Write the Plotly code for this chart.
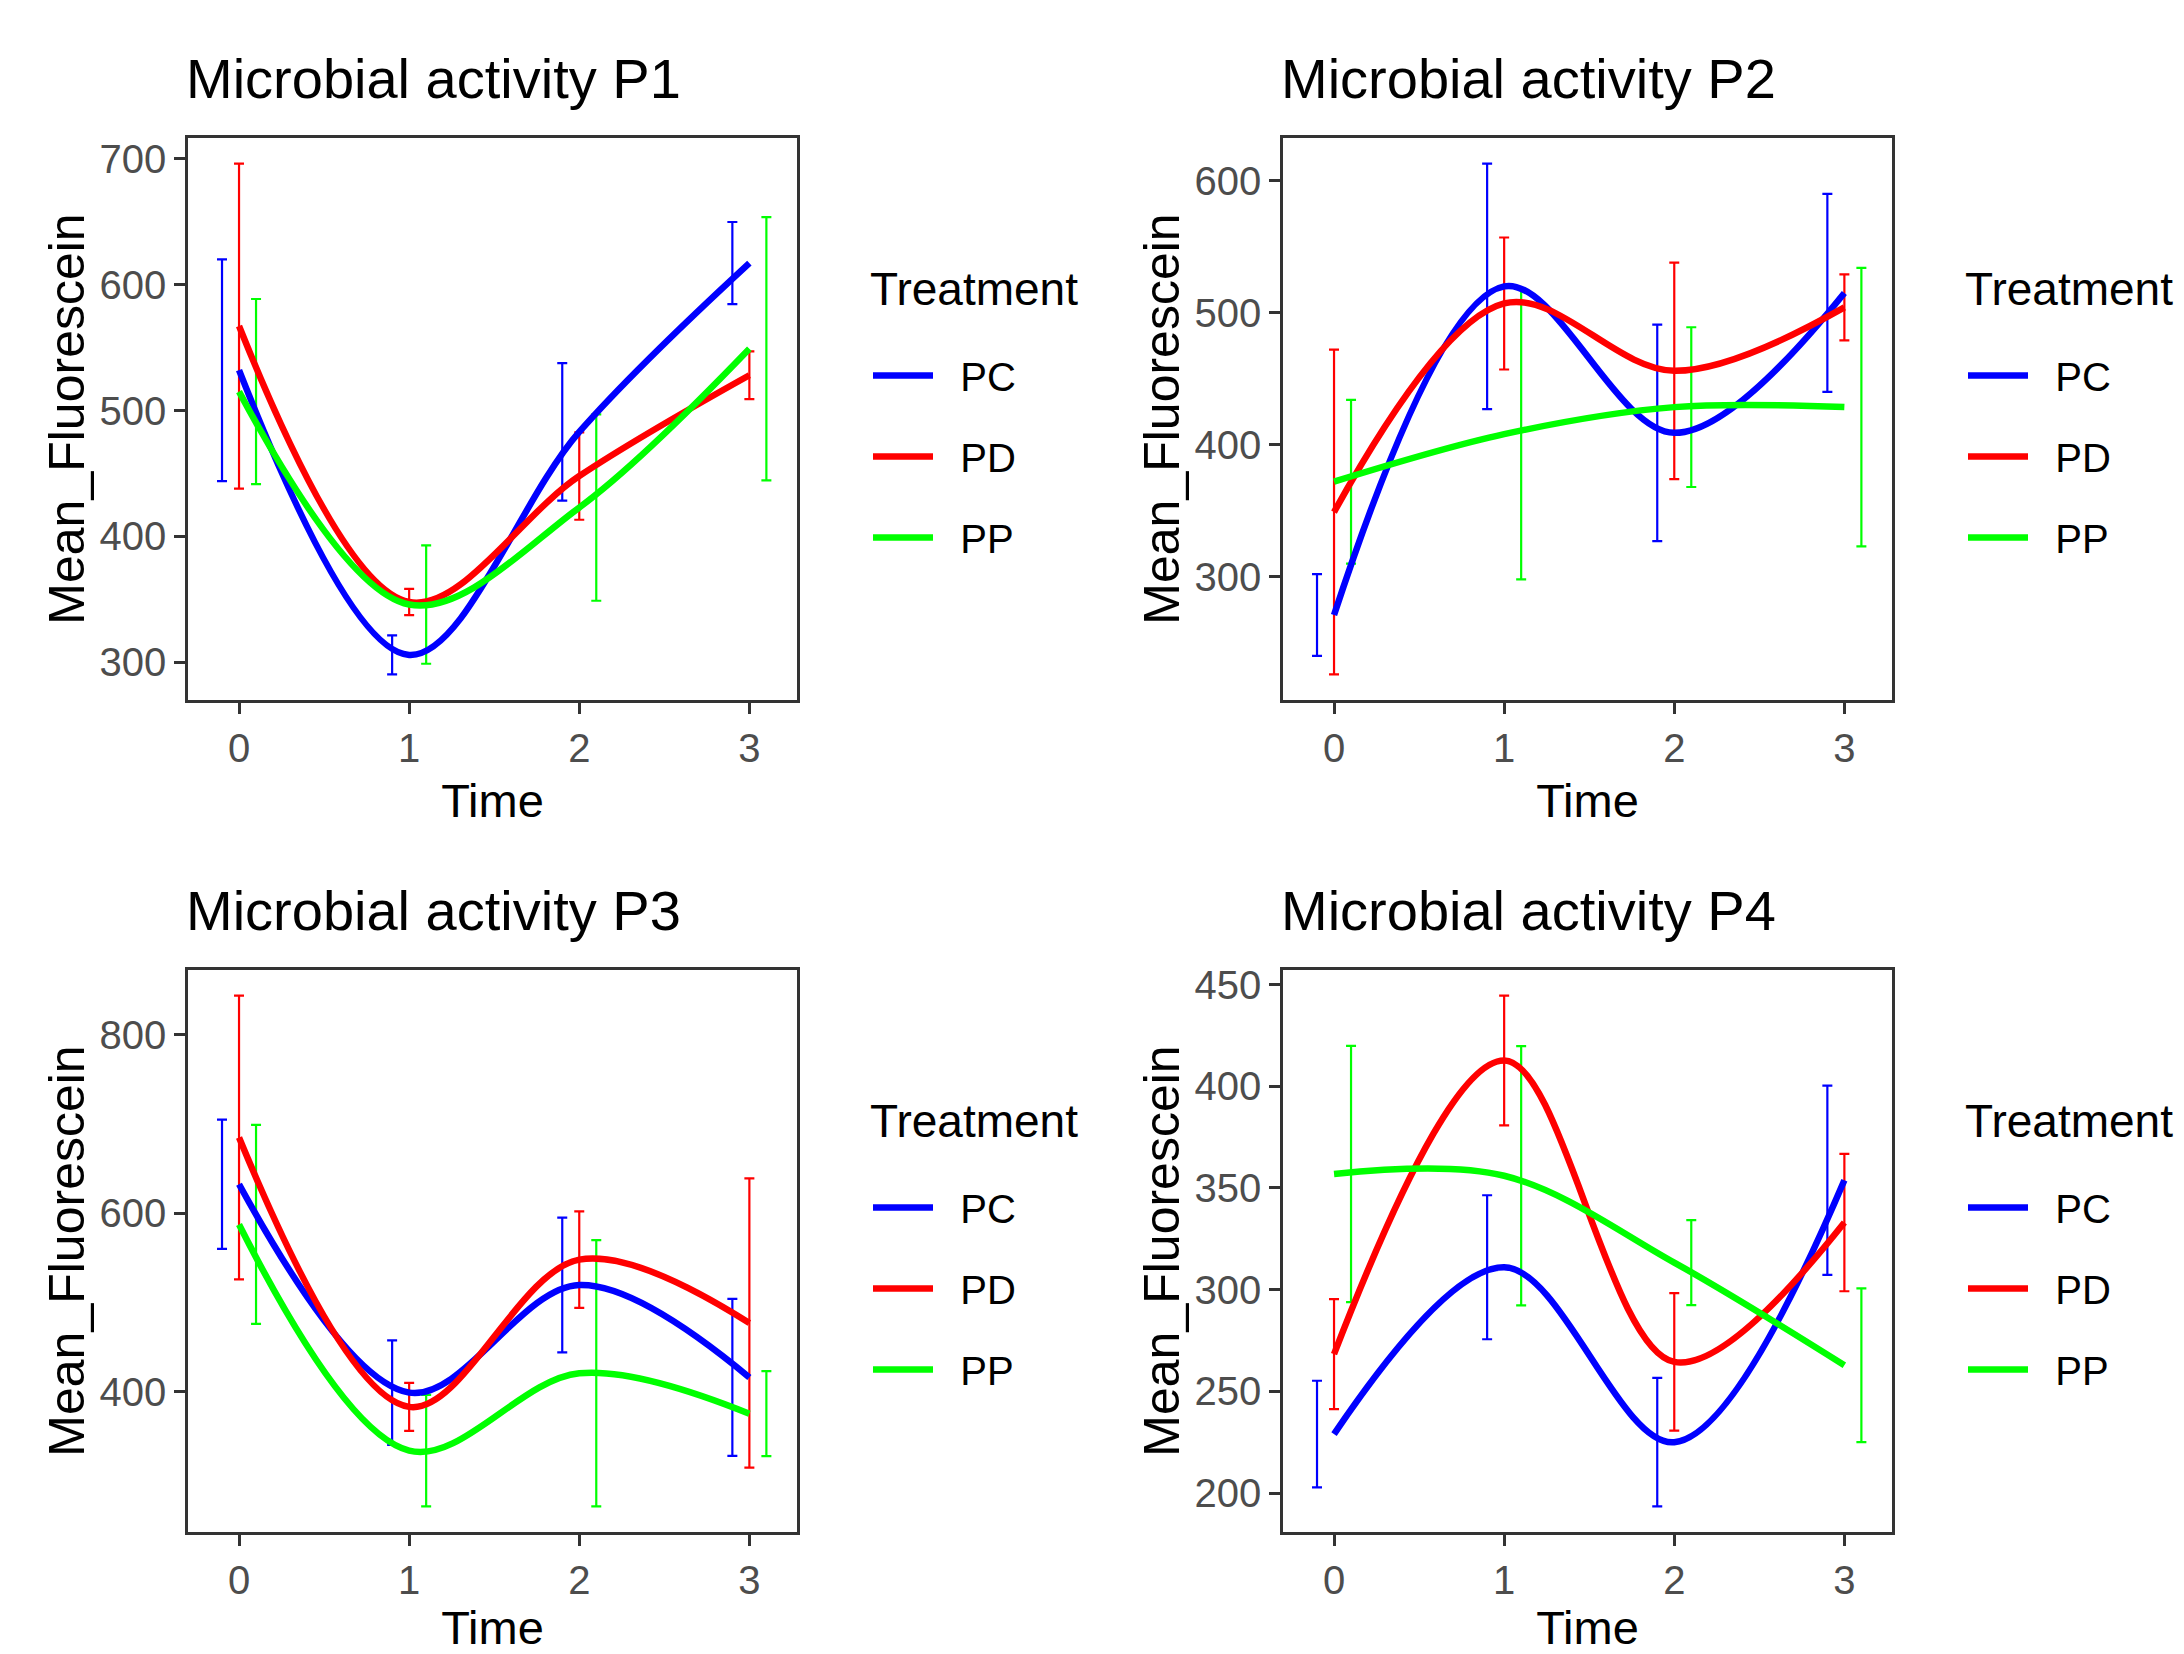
import plotly.graph_objects as go

# ---------------- data ----------------
time = [0, 1, 2, 3]
treatments = ["PC", "PD", "PP"]
panel_titles = ["Microbial activity P1", "Microbial activity P2",
                "Microbial activity P3", "Microbial activity P4"]
legend_title = "Treatment"
y_dticks = [100, 100, 200, 50]

# Panel P1
p1_pc_mean = [532, 306, 483, 617]
p1_pc_se = [88, 15.5, 54.6, 32.6]
p1_pd_mean = [567, 348, 448, 528]
p1_pd_se = [129, 10.4, 34.7, 19]
p1_pp_mean = [515, 346, 423, 549]
p1_pp_se = [73.5, 47, 74, 104.4]

# Panel P2
p2_pc_mean = [271, 520, 409, 515]
p2_pc_se = [31, 93, 82, 75]
p2_pd_mean = [349, 507, 456, 504]
p2_pd_se = [123, 50, 82, 25]
p2_pp_mean = [372, 408, 428.5, 428.5]
p2_pp_se = [62, 110, 60.5, 105.5]

# Panel P3
p3_pc_mean = [632.5, 399, 519.5, 416]
p3_pc_se = [72.5, 58.5, 75.5, 88]
p3_pd_mean = [685, 383, 548, 477]
p3_pd_se = [159, 27, 54, 162]
p3_pp_mean = [587.5, 334, 420.7, 375.4]
p3_pp_se = [111.5, 62.5, 149.3, 47.6]

# Panel P4
p4_pc_mean = [229, 311, 225, 353.8]
p4_pc_se = [26.2, 35.4, 31.6, 46.5]
p4_pd_mean = [268.3, 412.7, 264.5, 333]
p4_pd_se = [27, 31.9, 33.8, 33.8]
p4_pp_mean = [356.9, 356, 313.3, 262.8]
p4_pp_se = [63, 63.7, 20.9, 37.8]

panels = [
    {"PC": (p1_pc_mean, p1_pc_se), "PD": (p1_pd_mean, p1_pd_se), "PP": (p1_pp_mean, p1_pp_se)},
    {"PC": (p2_pc_mean, p2_pc_se), "PD": (p2_pd_mean, p2_pd_se), "PP": (p2_pp_mean, p2_pp_se)},
    {"PC": (p3_pc_mean, p3_pc_se), "PD": (p3_pd_mean, p3_pd_se), "PP": (p3_pp_mean, p3_pp_se)},
    {"PC": (p4_pc_mean, p4_pc_se), "PD": (p4_pd_mean, p4_pd_se), "PP": (p4_pp_mean, p4_pp_se)},
]

# ---------------- style ----------------
colors = {"PC": "#0000FF", "PD": "#FF0000", "PP": "#00FF00"}
dodge = {"PC": -0.1, "PD": 0.0, "PP": 0.1}
FONT = "Liberation Sans, Arial, sans-serif"

# page has an 8px body margin: figure occupies page pixels 8..2184
OFF = 8
W, H = 2184 - OFF, 1654 - OFF
def fx(px):
    return (px - OFF) / W
def fy(py):
    return 1 - (py - OFF) / H

col_left = [188, 1283]
row_top = [138, 970]
pw, ph = 609, 562

fig = go.Figure()
layout = dict(
    width=W, height=H,
    margin=dict(l=0, r=0, t=0, b=0, autoexpand=False),
    paper_bgcolor="white", plot_bgcolor="white",
    font=dict(family=FONT, color="black"),
    annotations=[],
)

for i, pdata in enumerate(panels):
    n = i + 1
    r, c = divmod(i, 2)
    x0, y0 = col_left[c], row_top[r]
    xa = "x" if n == 1 else f"x{n}"
    ya = "y" if n == 1 else f"y{n}"
    lg = "legend" if n == 1 else f"legend{n}"

    # error bars (dodged)
    for t in treatments:
        mean, se = pdata[t]
        fig.add_trace(go.Scatter(
            x=[tt + dodge[t] for tt in time], y=mean,
            mode="markers", marker=dict(size=1, color="rgba(0,0,0,0)"),
            error_y=dict(type="data", array=se, visible=True, color=colors[t],
                         thickness=2.2, width=5),
            xaxis=xa, yaxis=ya, showlegend=False, hoverinfo="skip",
        ))
    # smoothed lines
    for t in treatments:
        mean, se = pdata[t]
        fig.add_trace(go.Scatter(
            x=time, y=mean, mode="lines", name="\u00a0\u00a0" + t,
            line=dict(shape="spline", smoothing=1.0, width=6.5, color=colors[t]),
            xaxis=xa, yaxis=ya, legend=lg, legendgroup=f"{t}{n}", showlegend=True,
        ))

    lo = min(m - s for t in treatments for m, s in zip(*pdata[t]))
    hi = max(m + s for t in treatments for m, s in zip(*pdata[t]))
    pad = (hi - lo) * 0.05

    axis_common = dict(
        showline=True, mirror=True, linecolor="#333333", linewidth=2.5,
        ticks="outside", ticklen=11, tickwidth=2.5, tickcolor="#333333",
        showgrid=False, zeroline=False, automargin=False,
        tickfont=dict(family=FONT, size=40, color="#4D4D4D"),
    )
    layout["xaxis" if n == 1 else f"xaxis{n}"] = dict(
        axis_common, domain=[fx(x0), fx(x0 + pw)], anchor=ya,
        range=[-0.3, 3.28], tickvals=time,
        title=dict(text="Time", font=dict(family=FONT, size=47, color="black"), standoff=16),
    )
    layout["yaxis" if n == 1 else f"yaxis{n}"] = dict(
        axis_common, domain=[fy(y0 + ph), fy(y0)], anchor=xa,
        range=[lo - pad, hi + pad], tick0=0, dtick=y_dticks[i],
        title=dict(text="Mean_Fluorescein", font=dict(family=FONT, size=50, color="black"), standoff=0),
    )
    # panel title
    layout["annotations"].append(dict(
        text=panel_titles[i], xref="paper", yref="paper",
        x=fx(x0 - 4), y=fy(y0 - 60), xanchor="left", yanchor="middle",
        showarrow=False, font=dict(family=FONT, size=56, color="black"),
    ))
    # legend title
    layout["annotations"].append(dict(
        text=legend_title, xref="paper", yref="paper",
        x=fx(x0 + 680), y=fy(y0 + 151), xanchor="left", yanchor="middle",
        showarrow=False, font=dict(family=FONT, size=46, color="black"),
    ))
    layout[lg] = dict(
        x=fx(x0 + 680), y=fy(y0 + 205), xanchor="left", yanchor="top",
        font=dict(family=FONT, size=40, color="black"),
        bgcolor="rgba(0,0,0,0)", traceorder="grouped", tracegroupgap=26,
        itemwidth=60,
    )

fig.update_layout(**layout)
fig.write_html("out.html")
